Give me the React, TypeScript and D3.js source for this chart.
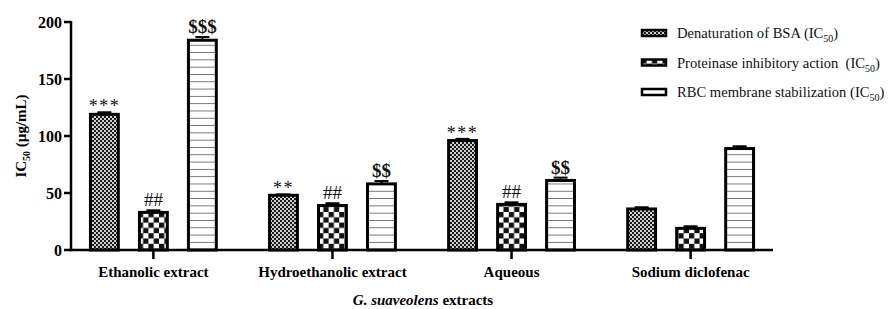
import * as d3 from "d3";

const categories = ["Ethanolic extract", "Hydroethanolic extract", "Aqueous", "Sodium diclofenac"];
const seriesKeys = ["bsa", "proteinase", "rbc"];
const seriesNames = ["Denaturation of BSA", "Proteinase inhibitory action\u00a0", "RBC membrane stabilization"];

const bsaValues = [119, 48, 96, 36];
const proteinaseValues = [33, 39, 40, 19];
const rbcValues = [184, 58, 61, 89];

const bsaErr = [1.8, 0.8, 1.5, 1.5];
const proteinaseErr = [1.8, 2, 1.8, 1.8];
const rbcErr = [2.8, 2.5, 2.5, 2];

const bsaSig = ["***", "**", "***", ""];
const proteinaseSig = ["##", "##", "##", ""];
const rbcSig = ["$$$", "$$", "$$", ""];

const yTicks = [0, 50, 100, 150, 200];

const values = [bsaValues, proteinaseValues, rbcValues];
const errors = [bsaErr, proteinaseErr, rbcErr];
const sigs = [bsaSig, proteinaseSig, rbcSig];
const fills = ["url(#fineChecker)", "url(#bigChecker)", "url(#stripes)"];

const FONT = "'Liberation Serif', 'Times New Roman', serif";

export default function App() {
  const width = 888;
  const height = 309;

  const x = d3.scalePoint<string>().domain(categories).range([71, 773]).padding(0.46);
  const sub = d3.scaleBand<string>().domain(seriesKeys).range([-73.5, 73.5]).paddingInner(0.37).paddingOuter(0.185);
  const y = d3.scaleLinear().domain([0, 200]).range([250, 22]);
  const bw = sub.bandwidth();

  return (
    <div style={{ position: "fixed", left: 0, top: 0 }}>
      <svg width={width} height={height} style={{ display: "block", background: "#fff" }} fontFamily={FONT}>
        <defs>
          <pattern id="fineChecker" width={4} height={4} patternUnits="userSpaceOnUse">
            <rect width={4} height={4} fill="#d0d0d0" />
            <rect width={2} height={2} fill="#1a1a1a" />
            <rect x={2} y={2} width={2} height={2} fill="#1a1a1a" />
          </pattern>
          <pattern id="bigChecker" width={10.6} height={10.6} patternUnits="userSpaceOnUse">
            <rect width={10.6} height={10.6} fill="#fff" />
            <rect width={5.3} height={5.3} fill="#111" />
            <rect x={5.3} y={5.3} width={5.3} height={5.3} fill="#111" />
          </pattern>
          <pattern id="stripes" width={8} height={7.3} patternUnits="userSpaceOnUse" y={1}>
            <rect width={8} height={7.3} fill="#fff" />
            <line x1={0} x2={8} y1={0} y2={0} stroke="#333" strokeWidth={1.3} />
          </pattern>
        </defs>

        {/* bars */}
        {categories.map((c, ci) =>
          seriesKeys.map((k, si) => {
            const v = values[si][ci];
            const e = errors[si][ci];
            const left = (x(c) as number) + (sub(k) as number);
            const cx = left + bw / 2;
            const capY = y(v + e);
            return (
              <g key={c + k}>
                <line x1={cx} x2={cx} y1={y(v)} y2={capY} stroke="#000" strokeWidth={2} />
                <line x1={cx - 7} x2={cx + 7} y1={capY} y2={capY} stroke="#000" strokeWidth={2} />
                <rect
                  x={left + 1.5}
                  y={y(v)}
                  width={bw - 3}
                  height={y(0) - y(v)}
                  fill={fills[si]}
                  stroke="#000"
                  strokeWidth={3}
                />
                {sigs[si][ci] && (
                  <text
                    x={cx}
                    y={capY - (si === 0 ? 0 : 4)}
                    textAnchor="middle"
                    fontSize={si === 1 ? 19 : si === 2 ? 19 : 18}
                    fontWeight={si === 2 ? "bold" : "normal"}
                    letterSpacing={si === 0 ? 1.5 : 0}
                    fill="#111"
                  >
                    {sigs[si][ci]}
                  </text>
                )}
              </g>
            );
          })
        )}

        {/* y axis */}
        <line x1={71} x2={71} y1={y(200) - 1} y2={y(0) + 1.2} stroke="#000" strokeWidth={2.5} />
        {yTicks.map((t) => (
          <g key={t}>
            <line x1={64} x2={71} y1={y(t)} y2={y(t)} stroke="#000" strokeWidth={2.5} />
            <text x={62} y={y(t) + 5.5} textAnchor="end" fontSize={16} fontWeight="bold">
              {t}
            </text>
          </g>
        ))}

        {/* x axis */}
        <line x1={70} x2={773} y1={y(0)} y2={y(0)} stroke="#000" strokeWidth={2.5} />
        {categories.map((c) => (
          <g key={c}>
            <line x1={x(c)} x2={x(c)} y1={y(0)} y2={y(0) + 9} stroke="#000" strokeWidth={2.5} />
            <text x={x(c)} y={277} textAnchor="middle" fontSize={15} fontWeight="bold">
              {c}
            </text>
          </g>
        ))}

        {/* axis titles */}
        <text transform="translate(26,136) rotate(-90)" textAnchor="middle" fontSize={15} fontWeight="bold">
          IC<tspan fontSize={10} dy={4}>50</tspan>
          <tspan dy={-4}> (µg/mL)</tspan>
        </text>
        <text x={423} y={305} textAnchor="middle" fontSize={15} fontWeight="bold">
          <tspan fontStyle="italic">G. suaveolens</tspan> extracts
        </text>

        {/* legend */}
        {seriesKeys.map((k, si) => {
          const base = 38 + si * 29.5;
          return (
            <g key={k}>
              <rect x={642} y={base - 8} width={24} height={6} fill={fills[si]} stroke="#000" strokeWidth={2.5} />
              <text x={677} y={base} fontSize={14.6} fill="#111">
                {seriesNames[si]} (IC<tspan fontSize={10} dy={4}>50</tspan>
                <tspan dy={-4}>)</tspan>
              </text>
            </g>
          );
        })}
      </svg>
    </div>
  );
}
